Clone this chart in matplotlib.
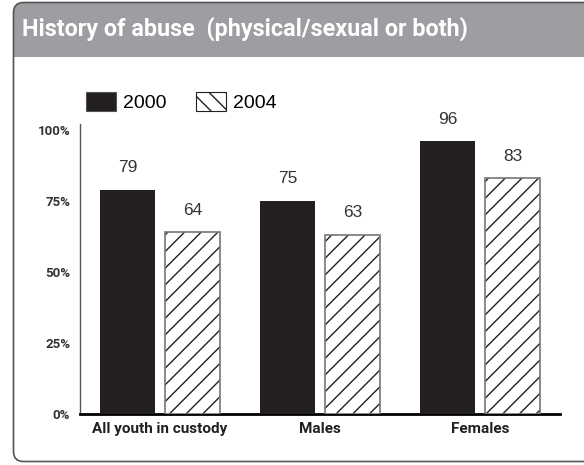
import matplotlib
matplotlib.use("Agg")
import matplotlib.pyplot as plt
from matplotlib.patches import FancyBboxPatch, Rectangle, Patch
import numpy as np

categories = ['All youth in custody', 'Males', 'Females']
y2000 = [79, 75, 96]
y2004 = [64, 63, 83]
series = ['2000', '2004']
yticks = [0, 25, 50, 75, 100]
ytick_labels = ['0%', '25%', '50%', '75%', '100%']
title = 'History of abuse  (physical/sexual or both)'

W, H = 584, 465
dark = '#231f20'
header_grey = '#9c9ea1'
cond = ['Roboto', 'DejaVu Sans']
plt.rcParams['hatch.linewidth'] = 1.0
plt.rcParams['hatch.color'] = dark

fig = plt.figure(figsize=(W / 100, H / 100), dpi=100)

# background frame drawn in pixel coordinates
bg = fig.add_axes([0, 0, 1, 1], zorder=-1)
bg.set_xlim(0, W)
bg.set_ylim(H, 0)
bg.axis('off')
bg.add_patch(FancyBboxPatch((13.5, 2.5), 620, 459, boxstyle='round,pad=0,rounding_size=10',
                            facecolor=header_grey, edgecolor='none'))
bg.add_patch(Rectangle((14, 57), 620, 404, facecolor='white', edgecolor='none'))
bg.add_patch(FancyBboxPatch((13.5, 2.5), 620, 459, boxstyle='round,pad=0,rounding_size=10',
                            facecolor='none', edgecolor='#555555', linewidth=1.2))
bg.text(22, 29, title, color='white', fontsize=16.8, fontweight='bold',
        family=cond, va='center', ha='left')

ax = fig.add_axes([80 / W, 1 - 414 / H, 480 / W, (414 - 124.3) / H])
x = np.arange(len(categories))
w = 0.344
off = 0.203
ax.bar(x - off, y2000, w, color=dark, edgecolor='none', zorder=3)
ax.bar(x + off, y2004, w, color='white', edgecolor=dark, hatch='//', linewidth=0, zorder=3)
ax.bar(x + off, y2004, w, color='none', edgecolor='#777777', linewidth=1.2, zorder=4)

for xi, v in zip(x - off, y2000):
    ax.annotate(str(v), (xi, v), xytext=(0, 16), textcoords='offset points',
                ha='center', va='center', fontsize=12.5, color='#333333', family='Liberation Sans')
for xi, v in zip(x + off, y2004):
    ax.annotate(str(v), (xi, v), xytext=(0, 16), textcoords='offset points',
                ha='center', va='center', fontsize=12.5, color='#333333', family='Liberation Sans')

ax.set_xlim(-0.5, 2.5)
ax.set_ylim(0, 102)
ax.set_yticks(yticks)
ax.set_yticklabels(ytick_labels, fontsize=9.5, color='#333333', family=cond,
                   fontweight='bold')
ax.set_xticks(x)
ax.set_xticklabels(categories, fontsize=11, fontweight='bold', color=dark,
                   family=cond)
ax.tick_params(axis='both', length=0)
ax.tick_params(axis='y', pad=7)
ax.tick_params(axis='x', pad=6)
for s in ['top', 'right']:
    ax.spines[s].set_visible(False)
ax.spines['left'].set_color('#555555')
ax.spines['left'].set_linewidth(1)
ax.spines['bottom'].set_color('black')
ax.spines['bottom'].set_linewidth(2)

handles = [Patch(facecolor=dark, edgecolor='#555555', linewidth=0.8),
           Patch(facecolor='white', edgecolor=dark, hatch='\\\\', linewidth=0.8)]
fig.legend(handles, series, loc='center left', bbox_to_anchor=(86 / W, 1 - 102 / H),
           bbox_transform=fig.transFigure, ncol=2, frameon=False, borderpad=0,
           borderaxespad=0, handlelength=1.55, handleheight=1.13, handletextpad=0.35,
           columnspacing=1.5, prop={'family': 'Liberation Sans', 'size': 14})

fig.savefig('out.png', dpi=100)
